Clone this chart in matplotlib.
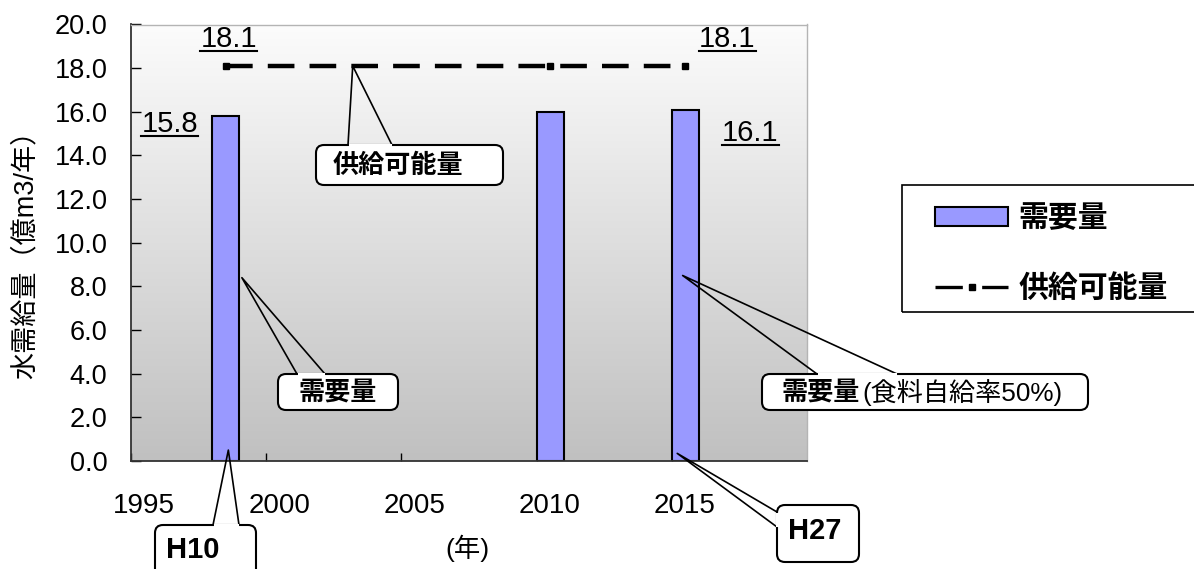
import numpy as np
import matplotlib
matplotlib.use("Agg")
import matplotlib.pyplot as plt
from matplotlib.colors import LinearSegmentedColormap
from matplotlib.patches import FancyBboxPatch, Rectangle
from matplotlib.lines import Line2D
from matplotlib.transforms import IdentityTransform, ScaledTranslation
from matplotlib.font_manager import FontProperties

plt.rcParams["font.family"] = ["Liberation Sans", "Noto Sans CJK JP"]

# water demand / supply (100 million m3 per year)
years = [1998, 2010, 2015]
demand = [15.8, 16.0, 16.1]
supply = [18.1, 18.1, 18.1]
labelled_demand = {1998: 15.8, 2015: 16.1}
labelled_supply = {1998: 18.1, 2015: 18.1}
yticks = np.arange(0, 20.1, 2.0)
xticks = [1995, 2000, 2005, 2010, 2015]

W, H = 1194, 569
fig = plt.figure(figsize=(W / 100, H / 100), dpi=100)
ax = fig.add_axes([131 / W, 1 - 461 / H, (807 - 131) / W, (461 - 24.5) / H])
ident = IdentityTransform()

# grey gradient plot area
grad = np.linspace(0, 1, 256).reshape(-1, 1)
bg = LinearSegmentedColormap.from_list("bg", ["#c0c0c0", "#fcfcfc"])
ax.imshow(grad, extent=(0, 1, 0, 1), transform=ax.transAxes, cmap=bg,
          origin="lower", aspect="auto", zorder=0)

xpos = np.array(years) + 0.5
bars = ax.bar(xpos, demand, width=1.0, color="#9999ff", edgecolor="black",
              linewidth=1.5, zorder=2)
line, = ax.plot(xpos, supply, color="black", lw=3.2, ls=(0, (6, 3.4)),
                marker="s", ms=4.5, zorder=3)

ax.set_xlim(1995, 2020)
ax.set_ylim(0, 20)
ax.set_xticks(xticks)
ax.set_yticks(yticks)
ax.set_yticklabels([f"{v:.1f}" for v in yticks])
ax.tick_params(axis="y", direction="in", length=7, width=1, pad=17, labelsize=19.5)
ax.tick_params(axis="x", direction="in", length=6, width=1, pad=23, labelsize=20)
shift = ScaledTranslation(13 / 100, 0, fig.dpi_scale_trans)
for lbl in ax.get_xticklabels():
    lbl.set_transform(lbl.get_transform() + shift)

for side in ["top", "right"]:
    ax.spines[side].set_color("#b4b4b4")
    ax.spines[side].set_linewidth(1)
for side in ["left", "bottom"]:
    ax.spines[side].set_color("#333333")
    ax.spines[side].set_linewidth(1.3)

fig.text(26 / W, 1 - 248 / H, "水需給量（億m3/年）", rotation=90,
         ha="center", va="center", fontsize=19.5)
fig.text(467 / W, 1 - 548 / H, "(年)", ha="center", va="center", fontsize=19)

# underlined value labels
value_texts = []
for yr, v in labelled_demand.items():
    off = (-56, -8) if yr == 1998 else (65, -23)
    value_texts.append(ax.annotate(f"{v:.1f}", xy=(yr + 0.5, v), xytext=off,
                                   textcoords="offset pixels", ha="center",
                                   va="center", fontsize=21))
for yr, v in labelled_supply.items():
    off = (3, 27) if yr == 1998 else (42, 27)
    value_texts.append(ax.annotate(f"{v:.1f}", xy=(yr + 0.5, v), xytext=off,
                                   textcoords="offset pixels", ha="center",
                                   va="center", fontsize=21))

# legend: entries without frame, box drawn separately
leg_handle = Line2D([], [], color="black", lw=2.4, ls=(0, (8.2, 5.8)),
                    marker="s", ms=4)
leg = ax.legend([bars, leg_handle], ["需要量", "供給可能量"], loc="upper left",
                bbox_to_anchor=(935 / W, 1 - 203 / H),
                bbox_transform=fig.transFigure,
                prop=FontProperties(family="Noto Sans CJK JP", weight="bold", size=21.5),
                frameon=False, borderpad=0, borderaxespad=0,
                labelspacing=1.33, handlelength=2.45, handleheight=0.6,
                handletextpad=0.35, numpoints=1)
fig.add_artist(Rectangle((902, H - 312), 320, 127, fill=False, ec="black",
                         lw=1.2, transform=ident, zorder=4))

fig.canvas.draw()
rend = fig.canvas.get_renderer()
for t in value_texts:
    bb = t.get_window_extent(rend)
    fig.add_artist(Line2D([bb.x0, bb.x1], [bb.y0 + 2, bb.y0 + 2], color="black",
                          lw=1.5, transform=ident))


def callout(box, base, tip):
    x0, y0, x1, y1 = box
    tx, ty = ax.transData.transform(tip)
    (b1x, b1y), (b2x, b2y) = base
    fig.add_artist(Line2D([b1x, tx, b2x], [H - b1y, ty, H - b2y], color="black",
                          lw=1.2, transform=ident, zorder=5))
    fig.add_artist(FancyBboxPatch((x0, H - y1), x1 - x0, y1 - y0,
                                  boxstyle="round,pad=0,rounding_size=8",
                                  fc="white", ec="black", lw=1.5,
                                  transform=ident, zorder=6))
    # open the box edge where the pointer joins it
    if b1y == b2y:
        gx, gy = [b1x + 2, b2x - 2], [H - b1y, H - b2y]
    else:
        gx, gy = [b1x, b2x], [H - b1y - 2, H - b2y + 2]
    fig.add_artist(Line2D(gx, gy, color="white", lw=2.2, transform=ident, zorder=7))


bold_jp = dict(family="Noto Sans CJK JP", weight="bold", zorder=8)

callout((316, 145, 503, 185), [(348, 145), (392, 145)], (2003.2, supply[0]))
fig.text(398 / W, 1 - 165 / H, "供給可能量", ha="center", va="center",
         fontsize=18.8, **bold_jp)

callout((278, 374, 398, 410), [(297, 374), (325, 374)], (1999.1, 8.4))
fig.text(338 / W, 1 - 392 / H, "需要量", ha="center", va="center",
         fontsize=18.8, **bold_jp)

callout((762, 374, 1088, 410), [(817, 374), (897, 374)], (2015.4, 8.5))
fig.text(782 / W, 1 - 392 / H, "需要量", ha="left", va="center",
         fontsize=18.8, **bold_jp)
fig.text(862 / W, 1 - 392 / H, "(食料自給率50%)", ha="left", va="center",
         fontsize=18.8, zorder=8)

callout((155, 525, 256, 600), [(213, 525), (239, 525)], (1998.6, 0.5))
fig.text(193 / W, 1 - 550 / H, "H10", ha="center", va="center",
         fontsize=21, weight="bold", zorder=8)

callout((777, 505, 859, 562), [(777, 512), (777, 527)], (2015.2, 0.35))
fig.text(815 / W, 1 - 531 / H, "H27", ha="center", va="center",
         fontsize=21, weight="bold", zorder=8)

fig.savefig("out.png", dpi=100)
